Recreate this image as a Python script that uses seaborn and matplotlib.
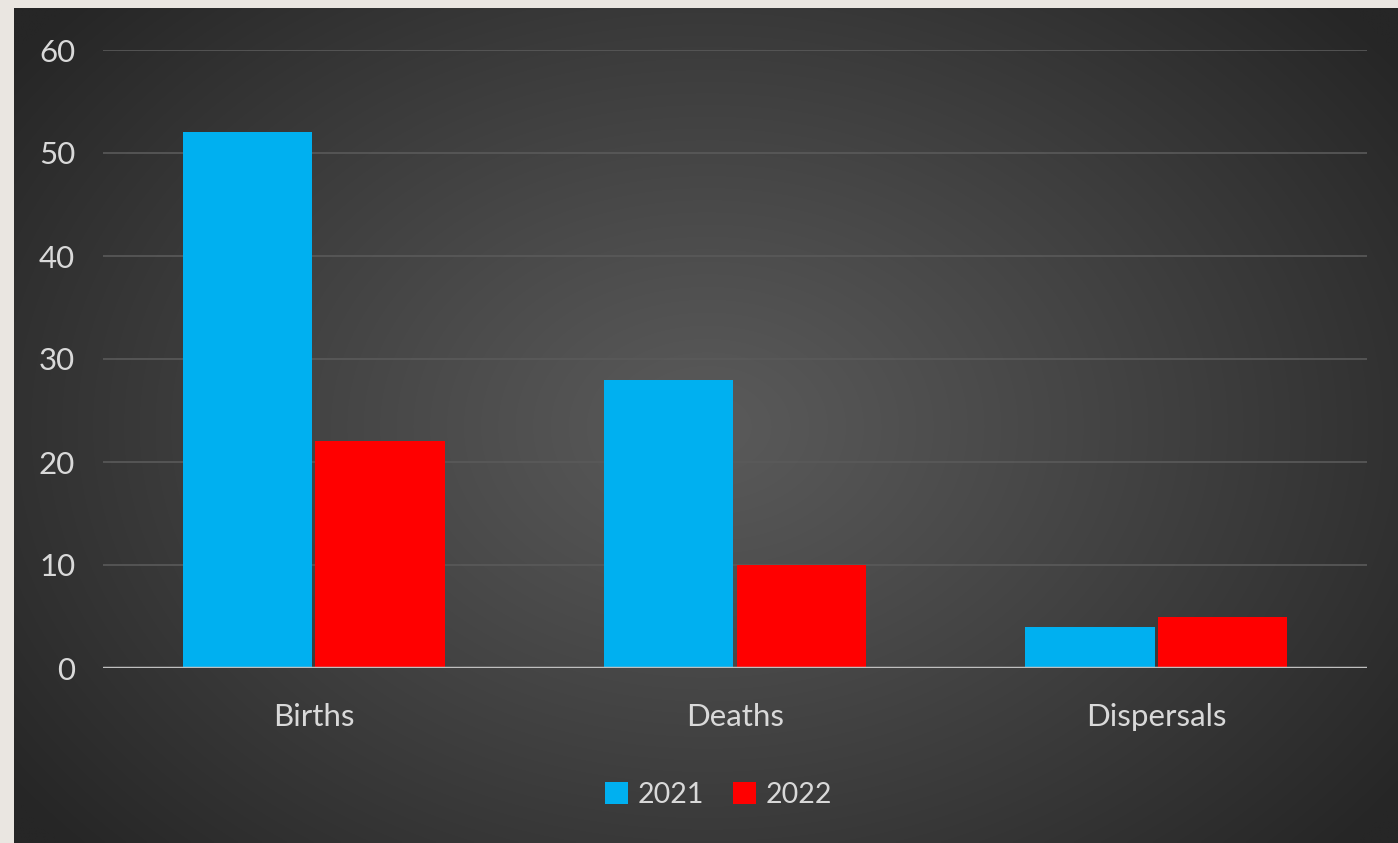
import numpy as np
import pandas as pd
import matplotlib
matplotlib.use("Agg")
import matplotlib.pyplot as plt
import seaborn as sns

categories = ["Births", "Deaths", "Dispersals"]
years = ["2021", "2022"]
values_2021 = [52, 28, 4]
values_2022 = [22, 10, 5]
y_ticks = [0, 10, 20, 30, 40, 50, 60]

df = pd.DataFrame({
    "category": categories * 2,
    "year": [years[0]] * 3 + [years[1]] * 3,
    "value": values_2021 + values_2022,
})

sns.set_theme(style="dark")
plt.rcParams["font.family"] = ["Lato", "DejaVu Sans"]

W, H = 1398, 843
fig = plt.figure(figsize=(W / 100, H / 100), dpi=100)
fig.patch.set_facecolor("#EAE6E1")

# background with radial gradient
bg = fig.add_axes([14 / W, 0, (W - 14) / W, (H - 8) / H], zorder=0)
ny, nx = 300, 500
yy, xx = np.mgrid[0:ny, 0:nx]
cx, cy = nx * 0.50, ny * 0.50
r = np.sqrt(((xx - cx) / (nx * 0.62)) ** 2 + ((yy - cy) / (ny * 0.75)) ** 2)
r = np.clip(r, 0, 1)
inner = np.array([0x5A, 0x5A, 0x5A]) / 255
outer = np.array([0x26, 0x26, 0x26]) / 255
t = r[..., None] ** 1.1
img = inner * (1 - t) + outer * t
bg.imshow(img, aspect="auto", extent=[0, 1, 0, 1], interpolation="bilinear")
bg.set_axis_off()

ax = fig.add_axes([103 / W, 175 / H, (1367 - 103) / W, (668 - 50) / H], zorder=1)
ax.patch.set_alpha(0)

palette = {"2021": "#00B0F0", "2022": "#FF0000"}
sns.barplot(data=df, x="category", y="value", hue="year", palette=palette,
            order=categories, hue_order=years, width=0.63, gap=0.025,
            saturation=1, ax=ax, legend=True, zorder=3, linewidth=0,
            edgecolor="none")

ax.set_xlim(-0.5, 2.5)
ax.set_ylim(0, 60)
ax.set_yticks(y_ticks)
ax.set_yticklabels([str(v) for v in y_ticks])
ax.set_xlabel("")
ax.set_ylabel("")
for s in ax.spines.values():
    s.set_visible(False)
ax.grid(False)
for v in y_ticks[1:]:
    ax.axhline(v, color="#5A5A5A", lw=1.2, zorder=1)
ax.axhline(0, color="#BFBFBF", lw=2.5, zorder=4)

ax.tick_params(axis="y", colors="#D9D9D9", labelsize=22.5, length=0, pad=20)
ax.tick_params(axis="x", colors="#D9D9D9", labelsize=22.5, length=0, pad=25)

leg = ax.legend(loc="upper center", bbox_to_anchor=(0.487, -0.143), ncol=2,
                frameon=False, fontsize=20.5, handlelength=0.8, handleheight=0.8,
                handletextpad=0.35, columnspacing=1.0, labelcolor="#D9D9D9")

fig.savefig("out.png", dpi=100, facecolor=fig.get_facecolor())
